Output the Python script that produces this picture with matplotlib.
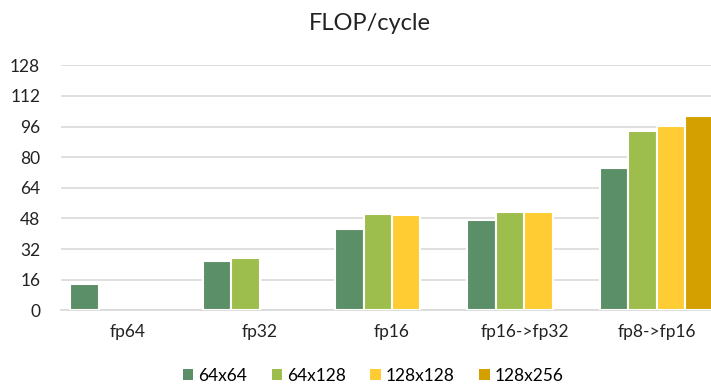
import numpy as np
import matplotlib
matplotlib.use("Agg")
import matplotlib.pyplot as plt
from matplotlib.patches import Patch

categories = ["fp64", "fp32", "fp16", "fp16->fp32", "fp8->fp16"]
series_names = ["64x64", "64x128", "128x128", "128x256"]
s_64x64 = [13.6, 25.6, 42.6, 47.3, 74.5]
s_64x128 = [np.nan, 27.2, 50.2, 51.5, 93.7]
s_128x128 = [np.nan, np.nan, 49.6, 51.5, 96.5]
s_128x256 = [np.nan, np.nan, np.nan, np.nan, 101.4]
yticks = [0, 16, 32, 48, 64, 80, 96, 112, 128]

colors = ["#5B8F67", "#9DBD4C", "#FFCC33", "#D4A000"]
series = [s_64x64, s_64x128, s_128x128, s_128x256]

plt.rcParams['font.family'] = ['Lato', 'DejaVu Sans']

fig = plt.figure(figsize=(7.11, 3.88), dpi=100)
ax = fig.add_axes([61/711, 77.7/388, 662/711, 245/388])

x = np.arange(len(categories))
w = 0.215
for i, (vals, c) in enumerate(zip(series, colors)):
    ax.bar(x + (i - 1.5) * w, vals, width=w, color=c, edgecolor="white",
           linewidth=1.5, zorder=3)

ax.set_xlim(-0.5, len(categories) - 0.5)
ax.set_ylim(0, 128)
ax.set_yticks(yticks)
ax.set_xticks(x)
ax.set_xticklabels(categories)
ax.grid(axis="y", color="#D9D9D9", linewidth=1.2, zorder=0)
ax.set_axisbelow(True)
for s in ["top", "right", "left"]:
    ax.spines[s].set_visible(False)
ax.spines["bottom"].set_color("#D9D9D9")
ax.spines["bottom"].set_linewidth(1.2)
ax.tick_params(axis="both", length=0, labelsize=12.5, colors="#222222")
ax.tick_params(axis="x", pad=10)
ax.tick_params(axis="y", pad=15)
for lab in ax.get_yticklabels():
    lab.set_horizontalalignment("right")

fig.text(0.52, 0.94, "FLOP/cycle", ha="center", va="center", fontsize=17, color="#222222")

handles = [Patch(facecolor=c, edgecolor="none") for c in colors]
fig.legend(handles, series_names, loc="center", bbox_to_anchor=(0.525, 0.032),
           ncol=4, frameon=False, fontsize=12.5, handlelength=0.6, handleheight=0.6,
           handletextpad=0.3, columnspacing=1.4)

fig.savefig("out.png", dpi=100)
